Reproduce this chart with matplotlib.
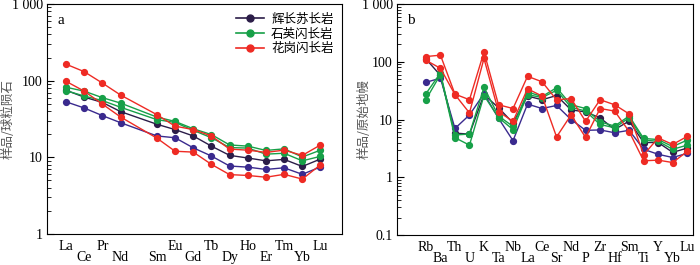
import matplotlib
matplotlib.use("Agg")
import matplotlib.pyplot as plt
from matplotlib.ticker import FixedLocator, NullFormatter, LogLocator

# 稀土元素 (Pm slot left empty)
ree_labels = ["La", "Ce", "Pr", "Nd", "Sm", "Eu", "Gd", "Tb", "Dy", "Ho", "Er", "Tm", "Yb", "Lu"]
ree_pos = [0, 1, 2, 3, 5, 6, 7, 8, 9, 10, 11, 12, 13, 14]

ree_red_a = [164, 131, 93, 65, 36, 25.5, 23, 19, 12.8, 12.4, 11.6, 12.4, 10.6, 14.5]
ree_red_b = [98, 73, 49.5, 33.6, 17.8, 12, 11.7, 8.1, 5.95, 5.8, 5.5, 6.0, 5.2, 8.0]
ree_green_a = [82, 73, 60, 51, 33.5, 29.4, 23.6, 19.8, 14.5, 14, 12.3, 12.9, 10.1, 12.4]
ree_green_b = [74, 63, 55, 45, 31, 28.5, 22.5, 18, 13.4, 13.2, 11, 11.3, 9, 10.3]
ree_dark = [75, 61, 52, 39.5, 27, 23, 19, 14, 10.6, 9.8, 9.0, 9.4, 7.6, 9.5]
ree_purple = [53, 44, 35, 28.3, 19, 18, 13.3, 10.4, 7.7, 7.45, 6.95, 7.3, 6.0, 7.5]

# 微量元素蛛网图
tr_labels = ["Rb", "Ba", "Th", "U", "K", "Ta", "Nb", "La", "Ce", "Sr",
             "Nd", "P", "Zr", "Hf", "Sm", "Ti", "Y", "Yb", "Lu"]
tr_red_a = [123, 130, 27.5, 22, 148, 18, 15.5, 56, 45, 22, 23, 9.3, 22, 18, 12.5, 2.45, 4.8, 3.7, 5.1]
tr_red_b = [106, 77, 27, 13, 114, 13.7, 9.3, 34, 25.5, 5.0, 12, 4.9, 15.5, 14, 6.2, 1.93, 1.98, 1.8, 2.8]
tr_green_a = [28, 64, 5.4, 5.6, 36, 11.5, 7.6, 30, 25, 35.5, 18, 15.5, 9.1, 7.7, 11.5, 4.7, 4.5, 3.4, 4.4]
tr_green_b = [22.2, 60, 4.85, 3.6, 26, 10.8, 6.7, 27, 24, 32, 16.3, 14, 8.2, 7.2, 10.7, 4.4, 4.2, 3.05, 3.6]
tr_dark = [112, 58, 5.8, 5.6, 27, 16, 8.7, 25.5, 22, 26, 14.7, 13.5, 10.7, 6.7, 9.4, 4.0, 4.0, 2.7, 3.2]
tr_purple = [44, 52, 7.0, 12, 28, 10.5, 4.3, 18.5, 15.5, 17.5, 10, 6.5, 6.6, 5.9, 6.5, 3.05, 2.5, 2.2, 2.6]

legend_names = ["辉长苏长岩", "石英闪长岩", "花岗闪长岩"]

c_dark = "#2b1d48"
c_purple = "#3a2a8e"
c_green = "#17a048"
c_red = "#ee2b24"

serif = "Liberation Serif"
cjk = ["Noto Sans CJK SC", "DejaVu Sans"]


def draw(ax, x, series):
    for ys, c in series:
        ax.plot(x, ys, "-o", color=c, lw=1.0, ms=4.2, mec=c, mfc=c)


def style(ax, ylim, yticks, ytlabels, xpos, xlabels, xlim, ylabel, tag, ylx):
    ax.set_yscale("log")
    ax.set_ylim(*ylim)
    ax.set_xlim(*xlim)
    ax.yaxis.set_major_locator(FixedLocator(yticks))
    ax.set_yticklabels(ytlabels, fontfamily=serif, fontsize=10)
    ax.yaxis.set_minor_locator(LogLocator(base=10, subs=range(2, 10)))
    ax.yaxis.set_minor_formatter(NullFormatter())
    ax.tick_params(axis="y", which="major", direction="in", length=5, width=0.8, pad=3)
    ax.tick_params(axis="y", which="minor", direction="in", length=3, width=0.6)
    ax.set_xticks(xpos)
    ax.set_xticklabels(xlabels, fontfamily=serif, fontsize=10)
    ax.tick_params(axis="x", length=0)
    # two staggered rows of element names
    for t, p in zip(ax.xaxis.get_major_ticks(), xpos):
        t.set_pad(4 if p % 2 == 0 else 12.5)
    ax.set_ylabel(ylabel, family=cjk, fontsize=9, color="#555555")
    ax.yaxis.set_label_coords(ylx, 0.5)
    ax.text(0.035, 0.955, tag, transform=ax.transAxes, fontfamily=serif,
            fontsize=11, va="top", ha="left")
    for s in ax.spines.values():
        s.set_linewidth(0.8)


fig = plt.figure(figsize=(7.0, 2.65), dpi=100)

ax1 = fig.add_axes([0.067, 0.117, 0.422, 0.868])
draw(ax1, ree_pos, [(ree_dark, c_dark), (ree_purple, c_purple),
                    (ree_green_a, c_green), (ree_green_b, c_green),
                    (ree_red_a, c_red), (ree_red_b, c_red)])
style(ax1, (1, 1000), [1, 10, 100, 1000], ["1", "10", "100", "1 000"],
      ree_pos, ree_labels, (-1.05, 15.2), "样品/球粒陨石", "a", -0.108)

h = []
for c in [c_dark, c_green, c_red]:
    h.append(plt.Line2D([], [], color=c, marker="o", lw=1.2, ms=5))
ax1.legend(h, legend_names, loc="upper right", frameon=False,
           prop={"family": cjk, "size": 9}, handlelength=2.2,
           handletextpad=0.6, labelspacing=0.15, borderaxespad=0.3)

ax2 = fig.add_axes([0.567, 0.113, 0.423, 0.872])
tr_pos = list(range(len(tr_labels)))
draw(ax2, tr_pos, [(tr_dark, c_dark), (tr_purple, c_purple),
                   (tr_green_a, c_green), (tr_green_b, c_green),
                   (tr_red_a, c_red), (tr_red_b, c_red)])
style(ax2, (0.1, 1000), [0.1, 1, 10, 100, 1000], ["0.1", "1", "10", "100", "1 000"],
      tr_pos, tr_labels, (-2.0, 18.4), "样品/原始地幔", "b", -0.088)

fig.savefig("out.png", dpi=100)
